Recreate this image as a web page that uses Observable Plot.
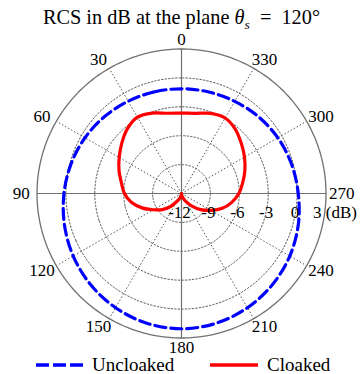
<!DOCTYPE html>
<html><head><meta charset="utf-8">
<script src="https://cdn.jsdelivr.net/npm/d3@7"></script>
<script src="https://cdn.jsdelivr.net/npm/@observablehq/plot@0.6"></script>
<style>
body{margin:0;background:#fff;font-family:"Liberation Serif","Times New Roman",serif;color:#000;}
#title{height:28px;padding-top:2px;line-height:30px;text-align:center;font-size:20.3px;white-space:nowrap;}
#title sub{font-size:13.5px;line-height:0;}
#chart svg{display:block;overflow:visible;}
#legend svg{display:block;overflow:visible;}
</style></head><body>
<div id="title">RCS in dB at the plane <i>θ</i><sub><i>s</i></sub>&nbsp;&nbsp;=&nbsp; 120°</div>
<div id="chart"></div>
<div id="legend"></div>
<script>
// Uncloaked (blue dashed) — angle in degrees, RCS in dB
const uncloakedAngles = [0,15,30,45,60,75,90,105,120,135,150,165,180,195,210,225,240,255,270,285,300,315,330,345];
const uncloakedDb = [-1.13,-1.08,-0.94,-0.71,-0.43,-0.13,0.20,0.58,0.98,1.36,1.69,1.94,2.04,1.94,1.69,1.36,0.98,0.55,0.12,-0.18,-0.45,-0.72,-0.95,-1.09];
// Cloaked (red solid)
const cloakedAngles = [0,10,20,30,40,50,60,70,80,90,100,110,120,130,140,150,160,170,180,190,200,210,220,230,240,250,260,270,280,290,300,310,320,330,340,350];
const cloakedDb = [-3.66,-3.54,-3.12,-2.85,-3.25,-3.90,-4.53,-5.10,-5.67,-6.08,-6.71,-7.64,-8.63,-9.40,-10.24,-11.07,-11.5,-11.8,-12,-11.8,-11.5,-11.0,-10.3,-9.4,-8.5,-7.5,-6.7,-6.05,-5.55,-5.0,-4.45,-3.9,-3.3,-2.95,-3.15,-3.55];
// Grid / ticks
const ringValues = [-9,-6,-3,0];
const radialTicks = [-12,-9,-6,-3,0];
const radialLabels = ["-12","-9","-6","-3","0"];
const outerTick = 3;
const outerLabel = "3 (dB)";
const angleTicks = [0,30,60,90,120,150,180,210,240,270,300,330];
const spokeAngles = [30,60,120,150,210,240,300,330];
const axisAngles = [0,90,180,270];

const rMin = -12, rMax = 3;
const deg = d3.scaleLinear([rMin, rMax], [0, 30]);
const lon = a => a + 180;
const lat = v => 90 - deg(Math.max(rMin, v));
const circle = v => d3.geoCircle().center([0, 90]).radius(deg(v)).precision(1)();

const uncloaked = uncloakedAngles.map((a, i) => ({a, v: uncloakedDb[i]}));
const cloaked = cloakedAngles.map((a, i) => ({a, v: cloakedDb[i]}));

const chart = Plot.plot({
  width: 363,
  height: 328,
  margin: 0,
  projection: {
    type: "azimuthal-equidistant",
    rotate: [0, -90],
    domain: circle(rMax),
    insetLeft: 36.5,
    insetRight: 37.5,
    insetTop: 18.5,
    insetBottom: 20.5,
    clip: false
  },
  style: {fontFamily: "'Liberation Serif','Times New Roman',serif", fontSize: "17px", color: "#000", background: "#fff"},
  marks: [
    Plot.geo(ringValues, {geometry: circle, stroke: "#555", strokeWidth: 1, strokeDasharray: "1.5,2", fill: "none"}),
    Plot.link(spokeAngles, {x1: lon, y1: 90, x2: lon, y2: lat(rMax), stroke: "#555", strokeWidth: 1, strokeDasharray: "1.5,2"}),
    Plot.link(axisAngles, {x1: lon, y1: 90, x2: lon, y2: lat(rMax), stroke: "#707070", strokeWidth: 1.2}),
    Plot.geo([rMax], {geometry: circle, stroke: "#707070", strokeWidth: 1.3, fill: "none"}),
    Plot.line(uncloaked, {x: d => lon(d.a), y: d => lat(d.v), curve: "catmull-rom-closed", stroke: "#0000ff", strokeWidth: 3.2, strokeDasharray: "11,5"}),
    Plot.line(cloaked, {x: d => lon(d.a), y: d => lat(d.v), curve: "catmull-rom-closed", stroke: "#ff0000", strokeWidth: 3.2}),
    Plot.text(angleTicks.filter(a => a > 0 && a < 180), {x: lon, y: 90 - 32, text: String, dx: -6}),
    Plot.text(angleTicks.filter(a => a > 180), {x: lon, y: 90 - 32, text: String, dx: 6}),
    Plot.text(angleTicks.filter(a => a === 0 || a === 180), {x: lon, y: 90 - 32, text: String}),
    Plot.text(radialTicks, {x: lon(270), y: lat, text: (d, i) => radialLabels[i], dy: 19, dx: -2}),
    Plot.text([outerTick], {x: lon(270), y: lat, text: () => outerLabel, textAnchor: "start", dy: 19, dx: -13})
  ]
});
document.getElementById("chart").appendChild(chart);

// Legend
const lg = d3.select("#legend").append("svg").attr("width", 363).attr("height", 16);
lg.append("line").attr("x1", 36).attr("x2", 83).attr("y1", 7).attr("y2", 7)
  .attr("stroke", "#0000ff").attr("stroke-width", 3.5).attr("stroke-dasharray", "13,4");
lg.append("text").attr("x", 92).attr("y", 13).text("Uncloaked")
  .attr("font-family", "'Liberation Serif','Times New Roman',serif").attr("font-size", 19);
lg.append("line").attr("x1", 210).attr("x2", 258).attr("y1", 7).attr("y2", 7)
  .attr("stroke", "#ff0000").attr("stroke-width", 3.5);
lg.append("text").attr("x", 267).attr("y", 13).text("Cloaked")
  .attr("font-family", "'Liberation Serif','Times New Roman',serif").attr("font-size", 19);
</script>
</body></html>
